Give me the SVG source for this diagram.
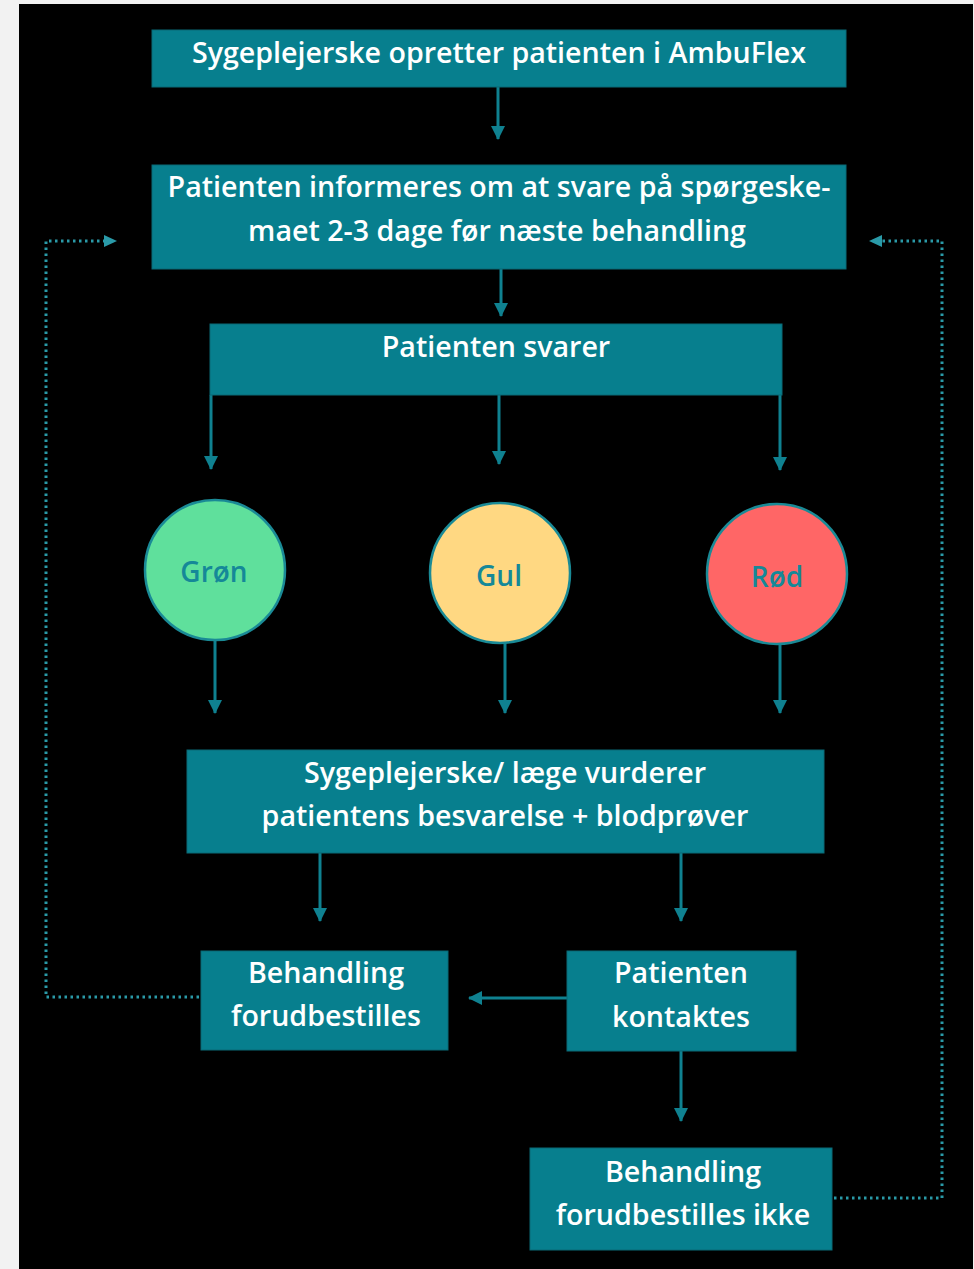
<svg xmlns="http://www.w3.org/2000/svg" width="974" height="1269" viewBox="0 0 974 1269">
<defs>
<style>
.box{fill:#077f8e;stroke:#0a6a76;stroke-width:1}
.t{font-family:"Open Sans","Noto Sans","DejaVu Sans",sans-serif;font-weight:600;font-size:28.6px;fill:#ffffff;text-anchor:middle}
.ct{font-family:"Open Sans","Noto Sans","DejaVu Sans",sans-serif;font-weight:600;font-size:28px;fill:#158898;text-anchor:middle}
.circ{stroke:#1a8a96;stroke-width:2.5}
.ar{stroke:#0f8190;stroke-width:3;fill:none;marker-end:url(#ah)}
.dot{stroke:#2a9aa8;stroke-width:3;fill:none;stroke-dasharray:2.5 3.5}
</style>
<marker id="ah" markerWidth="16" markerHeight="14" refX="13" refY="7" orient="auto" markerUnits="userSpaceOnUse">
<path d="M0,0 L14,7 L0,14 Z" fill="#0f8190"/>
</marker>
</defs>
<rect x="0" y="0" width="974" height="1269" fill="#f2f2f2"/>
<rect x="19" y="4" width="954" height="1265" fill="#000000"/>

<g id="connectors">
<line class="ar" x1="498" y1="87" x2="498" y2="139"/>
<line class="ar" x1="501" y1="269" x2="501" y2="316"/>
<line class="ar" x1="211" y1="395" x2="211" y2="469"/>
<line class="ar" x1="499" y1="395" x2="499" y2="464"/>
<line class="ar" x1="780" y1="395" x2="780" y2="470"/>
<line class="ar" x1="215" y1="640" x2="215" y2="713"/>
<line class="ar" x1="505" y1="643" x2="505" y2="713"/>
<line class="ar" x1="780" y1="645" x2="780" y2="713"/>
<line class="ar" x1="320" y1="853" x2="320" y2="921"/>
<line class="ar" x1="681" y1="853" x2="681" y2="921"/>
<line class="ar" x1="567" y1="998" x2="469" y2="998"/>
<line class="ar" x1="681" y1="1051" x2="681" y2="1121"/>
<polyline class="dot" points="199,997 46,997 46,241 104,241"/>
<path d="M104,235 L117,241 L104,247 Z" fill="#2a9aa8"/>
<polyline class="dot" points="834,1198 942,1198 942,241 882,241"/>
<path d="M882,235 L869,241 L882,247 Z" fill="#2a9aa8"/>
</g>

<g id="n1">
<rect class="box" x="152" y="30" width="694" height="57"/>
<text class="t" x="499" y="63">Sygeplejerske opretter patienten i AmbuFlex</text>
</g>
<g id="n2">
<rect class="box" x="152" y="165" width="694" height="104"/>
<text class="t" x="499" y="197">Patienten informeres om at svare på spørgeske-</text>
<text class="t" x="497" y="241">maet 2-3 dage før næste behandling</text>
</g>
<g id="n3">
<rect class="box" x="210" y="324" width="572" height="71"/>
<text class="t" x="496" y="357">Patienten svarer</text>
</g>
<g id="n4">
<circle class="circ" cx="215" cy="570" r="70" fill="#5fe09c"/>
<text class="ct" x="214" y="582">Grøn</text>
</g>
<g id="n5">
<circle class="circ" cx="500" cy="573" r="70" fill="#ffd882"/>
<text class="ct" x="499" y="586">Gul</text>
</g>
<g id="n6">
<circle class="circ" cx="777" cy="574" r="70" fill="#ff6666"/>
<text class="ct" x="777" y="587">Rød</text>
</g>
<g id="n7">
<rect class="box" x="187" y="750" width="637" height="103"/>
<text class="t" x="505" y="783">Sygeplejerske/ læge vurderer</text>
<text class="t" x="505" y="826">patientens besvarelse + blodprøver</text>
</g>
<g id="n8">
<rect class="box" x="201" y="951" width="247" height="99"/>
<text class="t" x="326" y="983">Behandling</text>
<text class="t" x="326" y="1026">forudbestilles</text>
</g>
<g id="n9">
<rect class="box" x="567" y="951" width="229" height="100"/>
<text class="t" x="681" y="983">Patienten</text>
<text class="t" x="681" y="1027">kontaktes</text>
</g>
<g id="n10">
<rect class="box" x="530" y="1148" width="302" height="102"/>
<text class="t" x="683" y="1182">Behandling</text>
<text class="t" x="683" y="1225">forudbestilles ikke</text>
</g>
</svg>
